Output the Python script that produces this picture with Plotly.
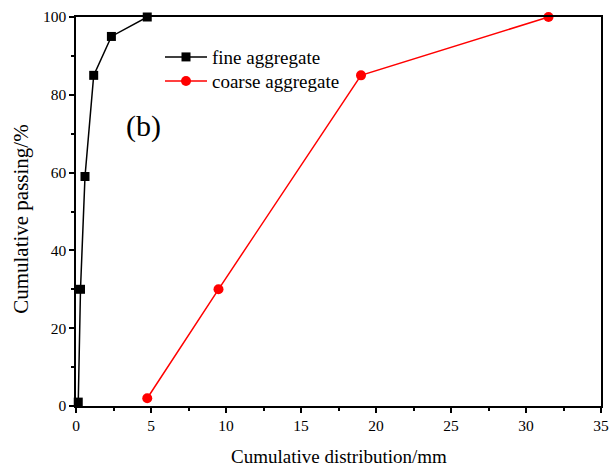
import plotly.graph_objects as go

fine_x = [0.15, 0.3, 0.6, 1.18, 2.36, 4.75]
fine_y = [1, 30, 59, 85, 95, 100]
coarse_x = [4.75, 9.5, 19, 31.5]
coarse_y = [2, 30, 85, 100]

font_family = "Liberation Serif, Times New Roman, serif"

fig = go.Figure()
fig.add_trace(go.Scatter(x=fine_x, y=fine_y, mode="lines+markers", name="fine aggregate",
                         line=dict(color="black", width=1.5),
                         marker=dict(symbol="square", size=9, color="black"),
                         cliponaxis=False, legend="legend"))
fig.add_trace(go.Scatter(x=coarse_x, y=coarse_y, mode="lines+markers", name="coarse aggregate",
                         line=dict(color="red", width=1.5),
                         marker=dict(symbol="circle", size=10, color="red"),
                         cliponaxis=False, legend="legend2"))

axis_common = dict(showline=True, linecolor="black", linewidth=1.5, mirror=True,
                   ticks="outside", ticklen=5, tickwidth=1.5, tickcolor="black",
                   showgrid=False, zeroline=False, automargin=False,
                   ticklabeloverflow="allow",
                   tickfont=dict(family=font_family, size=15.5, color="black"))

fig.update_xaxes(range=[0, 35], dtick=5, tick0=0,
                 minor=dict(ticks="outside", ticklen=3, tickwidth=1.5, dtick=2.5, tickcolor="black"),
                 **axis_common)
fig.update_yaxes(range=[0, 100], dtick=20, tick0=0,
                 minor=dict(ticks="outside", ticklen=3, tickwidth=1.5, dtick=10, tickcolor="black"),
                 **axis_common)

fig.add_annotation(x=0.5, y=-0.131, xref="paper", yref="paper", text="Cumulative distribution/mm",
                   showarrow=False, xanchor="center", yanchor="middle",
                   font=dict(family=font_family, size=19, color="black"))
fig.add_annotation(x=-0.1048, y=0.481, xref="paper", yref="paper", text="Cumulative passing/%",
                   showarrow=False, xanchor="center", yanchor="middle", textangle=-90,
                   font=dict(family=font_family, size=21, color="black"))

fig.add_annotation(x=0.129, y=0.72, xref="paper", yref="paper", text="(b)", showarrow=False,
                   xanchor="center", yanchor="middle",
                   font=dict(family=font_family, size=30, color="black"))

leg_common = dict(xanchor="left", yanchor="middle", bgcolor="rgba(0,0,0,0)",
                  font=dict(family=font_family, size=19, color="black"), itemwidth=42)

fig.update_layout(width=609, height=466, margin=dict(l=76, r=8, t=17, b=60),
                  plot_bgcolor="white", paper_bgcolor="white",
                  legend=dict(x=0.16, y=0.897, **leg_common),
                  legend2=dict(x=0.16, y=0.835, **leg_common),
                  showlegend=True)

fig.write_html("out.html")
